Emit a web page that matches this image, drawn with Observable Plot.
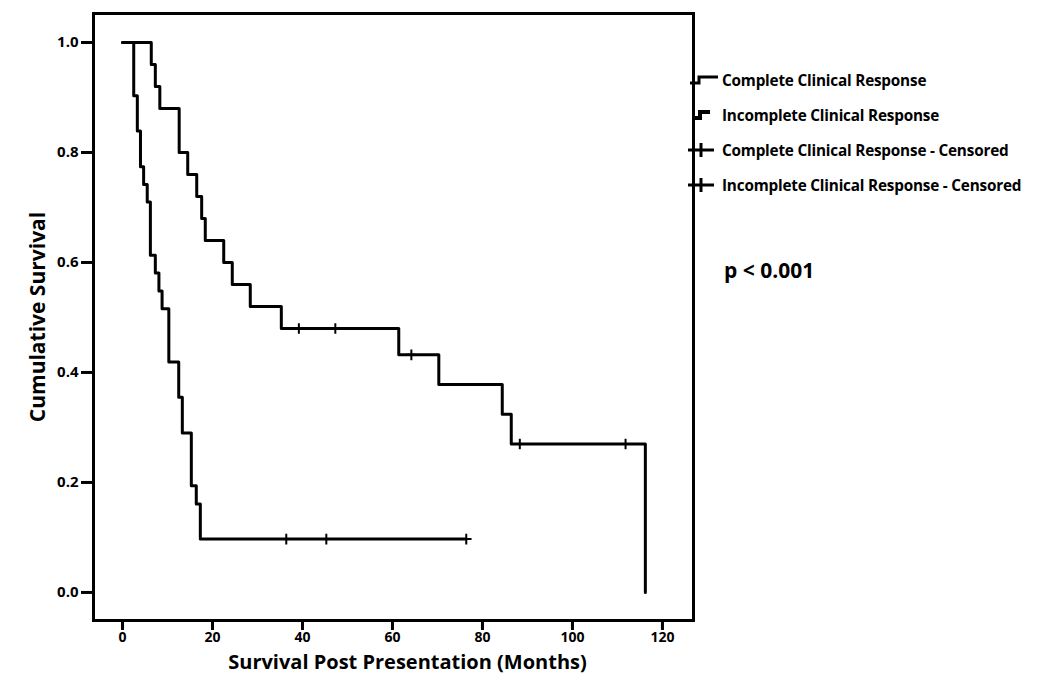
<!DOCTYPE html>
<html>
<head>
<meta charset="utf-8">
<script src="https://cdn.jsdelivr.net/npm/d3@7"></script>
<script src="https://cdn.jsdelivr.net/npm/@observablehq/plot@0.6"></script>
<style>
  html, body { margin: 0; padding: 0; background: #fff; }
  #wrap { position: relative; width: 1055px; height: 682px; font-family: "Open Sans", Lato, sans-serif; color: #000; }
  #legend { position: absolute; left: 688px; top: 62px; font-weight: bold; font-size: 15.3px; letter-spacing: -0.2px; }
  #legend .row { display: flex; align-items: center; height: 35px; white-space: nowrap; }
  #legend svg { width: 34px; height: 20px; flex: none; }
  #pval { position: absolute; left: 724px; top: 256px; font-weight: bold; font-size: 21px; white-space: nowrap; }
</style>
</head>
<body>
<div id="wrap"></div>
<script>
// Complete Clinical Response (upper curve)
const completeTimes = [0, 6.4, 7.3, 8.3, 12.6, 14.5, 16.5, 17.6, 18.4, 22.5, 24.4, 28.4, 35.3, 61.4, 70.3, 84.4, 86.4, 116.2];
const completeSurv  = [1.0, 0.96, 0.92, 0.88, 0.80, 0.76, 0.72, 0.68, 0.64, 0.60, 0.56, 0.52, 0.48, 0.432, 0.378, 0.324, 0.270, 0.0];
const completeCensorTimes = [39.2, 47.3, 64.2, 88.3, 111.8];
const completeCensorSurv  = [0.48, 0.48, 0.432, 0.270, 0.270];

// Incomplete Clinical Response (lower curve)
const incompleteTimes = [0, 2.5, 3.3, 4.0, 4.7, 5.5, 6.2, 7.3, 8.1, 8.8, 10.3, 12.5, 13.3, 15.3, 16.4, 17.3, 76.4];
const incompleteSurv  = [1.0, 0.903, 0.839, 0.774, 0.742, 0.710, 0.613, 0.581, 0.548, 0.516, 0.419, 0.355, 0.290, 0.194, 0.161, 0.097, 0.097];
const incompleteCensorTimes = [36.4, 45.3, 76.4];
const incompleteCensorSurv  = [0.097, 0.097, 0.097];

// Axis ticks and labels
const xTicks = [0, 20, 40, 60, 80, 100, 120];
const yTicks = [0, 0.2, 0.4, 0.6, 0.8, 1.0];
const xTitle = "Survival Post Presentation (Months)";
const yTitle = "Cumulative Survival";
const legendLabels = [
  "Complete Clinical Response",
  "Incomplete Clinical Response",
  "Complete Clinical Response - Censored",
  "Incomplete Clinical Response - Censored"
];
const pText = "p < 0.001";

const complete = completeTimes.map((t, i) => ({t, s: completeSurv[i]}));
const incomplete = incompleteTimes.map((t, i) => ({t, s: incompleteSurv[i]}));
const censors = [
  ...completeCensorTimes.map((t, i) => ({t, s: completeCensorSurv[i]})),
  ...incompleteCensorTimes.map((t, i) => ({t, s: incompleteCensorSurv[i]}))
];

const font = "'Open Sans', Lato, sans-serif";

const chart = Plot.plot({
  width: 1055,
  height: 682,
  marginLeft: 93,
  marginRight: 362,
  marginTop: 13,
  marginBottom: 62,
  style: {fontFamily: font, fontSize: "14px", fontWeight: "bold", color: "#000", background: "transparent"},
  x: {domain: [-6.44, 126.9], ticks: xTicks},
  y: {domain: [-0.051, 1.0527], ticks: yTicks},
  marks: [
    Plot.line(complete, {x: "t", y: "s", curve: "step-after", stroke: "#000", strokeWidth: 3}),
    Plot.line(incomplete, {x: "t", y: "s", curve: "step-after", stroke: "#000", strokeWidth: 3}),
    Plot.dot(censors, {x: "t", y: "s", symbol: "plus", r: 3.5, stroke: "#000", strokeWidth: 2}),
    Plot.frame({stroke: "#000", strokeWidth: 3}),
    Plot.axisX({ticks: xTicks, tickFormat: d3.format("d"), tickSize: 10, tickPadding: 2, strokeWidth: 3, fontSize: 14, fontWeight: "bold", label: null}),
    Plot.axisY({ticks: yTicks, tickFormat: d3.format(".1f"), tickSize: 12, tickPadding: 3, strokeWidth: 3, fontSize: 15, fontWeight: "bold", label: null}),
    Plot.text([xTitle], {frameAnchor: "bottom", textAnchor: "middle", dy: 48, dx: 14, fontSize: 20, fontWeight: "bold", fill: "#000"}),
    Plot.text([yTitle], {frameAnchor: "left", textAnchor: "middle", dx: -55, rotate: -90, fontSize: 21, fontWeight: "bold", fill: "#000"})
  ]
});

const wrap = document.getElementById("wrap");
wrap.appendChild(chart);

// Legend (HTML, real text)
const symbols = [
  '<svg viewBox="0 0 34 20"><path d="M2,13 H11 V7 H30" fill="none" stroke="#000" stroke-width="3"/></svg>',
  '<svg viewBox="0 0 34 20"><path d="M4,13 H12 V7 H22" fill="none" stroke="#000" stroke-width="4"/></svg>',
  '<svg viewBox="0 0 34 20"><path d="M0,10 H26 M13,3 V17" fill="none" stroke="#000" stroke-width="3"/></svg>',
  '<svg viewBox="0 0 34 20"><path d="M0,10 H26 M13,3 V17" fill="none" stroke="#000" stroke-width="3"/></svg>'
];
const legend = document.createElement("div");
legend.id = "legend";
legendLabels.forEach((lab, i) => {
  const row = document.createElement("div");
  row.className = "row";
  row.innerHTML = symbols[i];
  const span = document.createElement("span");
  span.textContent = lab;
  row.appendChild(span);
  legend.appendChild(row);
});
wrap.appendChild(legend);

const p = document.createElement("div");
p.id = "pval";
p.textContent = pText;
wrap.appendChild(p);
</script>
</body>
</html>
